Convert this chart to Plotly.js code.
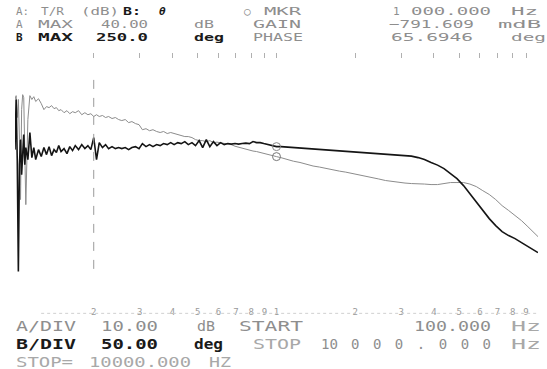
<!DOCTYPE html>
<html>
<head>
<meta charset="utf-8">
<script src="https://cdn.plot.ly/plotly-3.0.1.min.js"></script>
<style>html,body{margin:0;padding:0;background:#fff;}</style>
</head>
<body>
<div id="chart" style="width:547px;height:369px;"></div>
<script>
// ---- data (frequency in Hz) ----
const freqHz = [100,101,102,103,104,105,106,107,108,109,110,112,114,116,118,120,123,126,129,132,135,138,141,144,147,150,154,158,162,166,170,175,180,185,190,195,200,205,210,216,222,228,235,242,249,256,264,272,280,289,298,307,317,327,337,348,359,370,382,394,406,419,432,446,460,475,490,506,522,539,556,574,592,611,631,651,672,694,716,739,763,788,813,839,866,894,923,953,984,1000,1040,1100,1160,1230,1300,1380,1460,1550,1640,1740,1840,1950,2070,2190,2320,2460,2610,2760,2930,3100,3280,3480,3680,3900,4130,4370,4630,4900,5190,5490,5810,6150,6510,6890,7290,7720,8170,8650,9150,9680,10000];

// trace A: T/R gain (dB)
const gainDb = [21.7,23.2,14.6,21.7,5.9,-17.7,17.7,23.6,22.4,2.0,-19.7,13.8,23.2,21.7,22.8,20.9,22.0,20.1,17.7,18.9,18.5,19.3,18.1,18.5,17.3,17.7,16.5,17.3,16.1,16.9,16.5,17.3,15.7,16.5,15.7,16.1,15.0,15.7,15.0,15.4,14.6,15.0,14.2,14.6,13.8,13.4,13.8,12.6,13.0,12.2,11.8,9.8,10.2,9.4,9.8,9.1,8.7,9.1,8.3,8.7,8.3,7.9,7.5,7.1,7.1,6.7,5.9,5.5,5.5,5.1,5.5,4.7,4.9,4.7,4.5,4.3,3.9,3.3,2.9,2.6,2.2,1.8,1.4,1.2,0.8,0.4,0.0,-0.4,-0.6,-0.79,-1.2,-2.0,-2.6,-3.1,-3.9,-4.5,-4.9,-5.5,-5.9,-6.5,-6.9,-7.5,-8.1,-8.7,-9.1,-9.6,-10.2,-10.6,-11.0,-11.2,-11.4,-11.4,-11.6,-11.8,-11.8,-11.4,-11.0,-11.0,-11.0,-11.6,-12.6,-14.2,-15.7,-17.7,-20.1,-22.0,-24.0,-26.0,-28.4,-30.7,-32.3];

// trace B: phase (deg)
const phaseDeg = [59.8,158.3,40.2,-180.3,30.3,79.5,10.6,59.8,89.4,30.3,63.8,40.2,93.3,44.1,63.8,40.2,59.8,46.1,63.8,50.0,65.7,48.0,59.8,53.9,67.7,55.9,61.8,52.0,65.7,57.9,67.7,59.8,69.7,61.8,67.7,59.8,83.5,40.2,73.6,63.8,69.7,61.8,65.7,61.8,63.8,61.8,63.8,59.8,63.8,65.7,61.8,71.7,65.7,69.7,65.7,69.7,67.7,71.7,69.7,73.6,69.7,73.6,71.7,75.6,69.7,73.6,67.7,77.6,63.8,79.5,65.7,75.6,67.7,73.6,69.7,71.7,70.7,71.7,70.7,71.7,72.6,71.7,75.6,73.6,73.6,71.7,69.7,67.7,66.7,65.69,65.7,64.8,64.8,63.8,62.8,61.8,60.8,59.8,58.9,57.9,56.9,55.9,54.9,53.9,53.0,52.0,52.0,51.0,50.0,49.0,47.0,44.1,40.2,34.3,29.3,22.4,12.6,2.8,-11.0,-26.8,-44.5,-60.2,-76.0,-89.8,-101.6,-109.4,-115.4,-123.2,-131.1,-139.0,-142.9];

const markerFreqHz = [1000];
const tickFreqHz = [200,300,400,500,600,700,800,900,1000,2000,3000,4000,5000,6000,7000,8000,9000];
const tickText = ['2','3','4','5','6','7','8','9','1','2','3','4','5','6','7','8','9'];
const topTickFreqHz = [100,200,300,400,500,600,700,800,900,1000,2000,3000,4000,5000,6000,7000,8000,9000,10000];

// marker values taken from the series
const mIdx = markerFreqHz.map(f => freqHz.indexOf(f));
const markerGain = mIdx.map(i => gainDb[i]);
const markerPhase = mIdx.map(i => phaseDeg[i]);

const traces = [
  {x: freqHz, y: gainDb, xaxis:'x', yaxis:'y', type:'scatter', mode:'lines',
   line:{color:'#8c8c8c', width:1}, hoverinfo:'skip'},
  {x: freqHz, y: phaseDeg, xaxis:'x2', yaxis:'y2', type:'scatter', mode:'lines',
   line:{color:'#151515', width:1.6}, hoverinfo:'skip'},
  {x: markerFreqHz, y: markerGain, xaxis:'x', yaxis:'y', type:'scatter', mode:'markers',
   marker:{symbol:'circle-open', size:8, color:'#777', line:{width:1, color:'#777'}}, hoverinfo:'skip'},
  {x: markerFreqHz, y: markerPhase, xaxis:'x2', yaxis:'y2', type:'scatter', mode:'markers',
   marker:{symbol:'circle-open', size:8, color:'#888', line:{width:1, color:'#888'}}, hoverinfo:'skip'}
];

// ---- layout helpers ----
const W = 547, H = 369;
const M = {l:15, r:9, t:53, b:62};
const PW = W - M.l - M.r, PH = H - M.t - M.b;
const px = x => (x - M.l) / PW;
const py = y => (H - M.b - y) / PH;

const GRAY = '#8e8e8e', LIGHT = '#a8a8a8', DARK = '#1a1a1a';
// [text, left px, right px (0 = natural width), centre y px, colour, bold, italic, size, spread mode]
const HS = 11, BS = 14;
const G = 'spacingAndGlyphs', S = 'spacing';
const texts = [
  ['A:', 15, 28, 11.5, GRAY, false, false, HS, G],
  ['T/R', 40, 63, 11.5, GRAY, false, false, HS, G],
  ['(dB)', 80, 118, 11.5, GRAY, false, false, HS, G],
  ['B:', 122, 140, 11.5, DARK, true, false, HS, G],
  ['θ', 158, 0, 11.5, DARK, true, true, HS, G],
  ['○', 243, 0, 11.5, GRAY, false, false, HS, G],
  ['MKR', 263, 300, 11.5, GRAY, false, false, HS, G],
  ['1', 392, 0, 11.5, GRAY, false, false, HS, G],
  ['000.000', 410, 490, 11.5, GRAY, false, false, HS, G],
  ['Hz', 510, 537, 11.5, GRAY, false, false, HS, G],
  ['A', 15, 0, 24.5, GRAY, false, false, HS, G],
  ['MAX', 37, 72, 24.5, GRAY, false, false, HS, G],
  ['40.00', 100, 147, 24.5, GRAY, false, false, HS, G],
  ['dB', 193, 213, 24.5, GRAY, false, false, HS, G],
  ['GAIN', 252, 300, 24.5, GRAY, false, false, HS, G],
  ['\u2212791.609', 388, 473, 24.5, GRAY, false, false, HS, G],
  ['mdB', 497, 540, 24.5, GRAY, false, false, HS, G],
  ['B', 15, 0, 37.5, DARK, true, false, HS, G],
  ['MAX', 37, 72, 37.5, DARK, true, false, HS, G],
  ['250.0', 95, 147, 37.5, DARK, true, false, HS, G],
  ['deg', 193, 223, 37.5, DARK, true, false, HS, G],
  ['PHASE', 252, 302, 37.5, GRAY, false, false, HS, G],
  ['65.6946', 390, 472, 37.5, GRAY, false, false, HS, G],
  ['deg', 510, 545, 37.5, GRAY, false, false, HS, G],
  ['A/DIV', 15, 75, 326, GRAY, false, false, BS, G],
  ['10.00', 100, 157, 326, GRAY, false, false, BS, G],
  ['dB', 196, 214, 326, GRAY, false, false, BS, G],
  ['START', 238, 302, 326, GRAY, false, false, BS, G],
  ['100.000', 413, 490, 326, GRAY, false, false, BS, G],
  ['Hz', 510, 540, 326, LIGHT, false, false, BS, G],
  ['B/DIV', 15, 75, 344, DARK, true, false, BS, G],
  ['50.00', 100, 157, 344, DARK, true, false, BS, G],
  ['deg', 193, 222, 344, DARK, true, false, BS, G],
  ['STOP', 252, 300, 344, LIGHT, false, false, BS, G],
  ['10', 320, 337, 344, GRAY, false, false, BS, G],
  ['000.000', 350, 490, 344, GRAY, false, false, BS, S],
  ['Hz', 510, 540, 344, LIGHT, false, false, BS, G],
  ['STOP=', 15, 72, 362, LIGHT, false, false, BS, G],
  ['10000.000', 88, 190, 362, LIGHT, false, false, BS, G],
  ['HZ', 208, 230, 362, LIGHT, false, false, BS, G]
];

const annotations = texts.map(t => ({
  text: t[0], xref:'paper', yref:'paper', x: px(t[1]), y: py(t[3]),
  xanchor:'left', yanchor:'middle', align:'left', showarrow:false, borderpad:0,
  font:{family:'DejaVu Sans Mono, monospace', size:t[7], color:t[4],
        weight: t[5] ? 'bold' : 'normal', style: t[6] ? 'italic' : 'normal'}
}));

const axisCommon = {type:'log', range:[2,4], showgrid:false, zeroline:false, showline:false, fixedrange:true};

const layout = {
  width: W, height: H, margin: M,
  paper_bgcolor:'#ffffff', plot_bgcolor:'#ffffff', showlegend:false,
  xaxis: Object.assign({}, axisCommon, {
    tickmode:'array', tickvals: tickFreqHz, ticktext: tickText, ticks:'',
    ticklabelstandoff: -2,
    tickfont:{family:'DejaVu Sans Mono, monospace', size:9, color:'#9a9a9a'}
  }),
  xaxis2: Object.assign({}, axisCommon, {
    overlaying:'x', side:'top', tickmode:'array', tickvals: topTickFreqHz,
    ticks:'inside', ticklen:5, tickwidth:1, tickcolor:'#b0b0b0', showticklabels:false
  }),
  yaxis: {range:[-60,40], showgrid:false, zeroline:false, showline:false, showticklabels:false, ticks:'', fixedrange:true},
  yaxis2: {range:[-250,250], overlaying:'y', showgrid:false, zeroline:false, showline:false, showticklabels:false, ticks:'', fixedrange:true},
  shapes: [
    {type:'line', xref:'x', yref:'paper', x0:200, x1:200, y0:0.15, y1:0.915,
     line:{color:'#9a9a9a', width:1, dash:'dash'}},
    {type:'line', xref:'paper', yref:'paper', x0:0.05, x1:1, y0:-0.025, y1:-0.025,
     line:{color:'#d0d0d0', width:1, dash:'dot'}}
  ],
  annotations: annotations
};

Plotly.newPlot('chart', traces, layout, {displayModeBar:false, staticPlot:true}).then(() => {
  texts.forEach((t, i) => {
    if (!t[2]) return;
    const el = document.querySelector('.annotation[data-index="' + i + '"] text.annotation-text');
    if (el) {
      el.setAttribute('textLength', String(t[2] - t[1]));
      el.setAttribute('lengthAdjust', t[8]);
    }
  });
});
</script>
</body>
</html>
